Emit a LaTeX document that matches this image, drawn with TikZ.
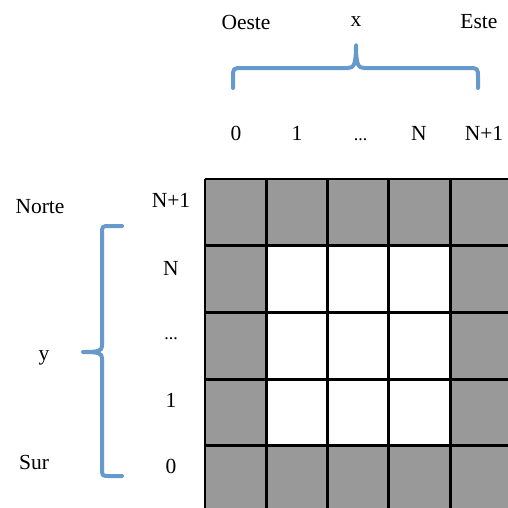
\documentclass[tikz,border=0pt]{standalone}
\usepackage{fontspec}
\setmainfont{Liberation Serif}
\definecolor{bracecol}{RGB}{102,153,204}
\begin{document}
\begin{tikzpicture}[x=1pt,y=-1pt,
  lbl/.style={inner sep=0pt,font=\fontsize{21.5}{25}\selectfont},
  dots/.style={lbl,anchor=base,font=\fontsize{18}{22}\selectfont},
  wall/.style={fill=black!40},
  gridline/.style={line width=2.9pt},
  brace/.style={draw=bracecol,line width=4pt,line cap=round,line join=round},
]
\useasboundingbox (0,0) rectangle (508,507);
\fill[white] (0,0) rectangle (508,507);

% ---- grid of cells (border cells grey, interior white) ----
\def\cw{61.3}
\def\ch{66.7}
\begin{scope}
\clip (0,0) rectangle (508,507);
\foreach \i in {0,...,4}{
  \foreach \j in {0,...,4}{
    \pgfmathtruncatemacro{\edge}{(\i==0 || \i==4 || \j==0 || \j==4) ? 1 : 0}
    \ifnum\edge=1
      \fill[wall] ({205+\i*\cw},{179+\j*\ch}) rectangle ++(\cw,\ch);
    \fi
  }
}
\foreach \i in {0,...,5}
  \draw[gridline] ({205+\i*\cw},179) -- ({205+\i*\cw},{179+5*\ch});
\foreach \j in {0,...,5}
  \draw[gridline] (205,{179+\j*\ch}) -- ({205+5*\cw},{179+\j*\ch});
\end{scope}

% ---- x axis labels ----
\node[lbl] (oeste) at (246,22) {Oeste};
\node[lbl] (xlab) at (356,22) {x};
\node[lbl] (este) at (479,22) {Este};
\node[lbl] (c0) at (236,133) {0};
\node[lbl] (c1) at (297,133) {1};
\node[dots] (cd) at (360.5,140) {...};
\node[lbl] (cN) at (419,133) {N};
\node[lbl] (cN1) at (484,133) {N+1};

% ---- y axis labels ----
\node[lbl] (norte) at (40,207) {Norte};
\node[lbl] (ylab) at (44,358) {y};
\node[lbl] (sur) at (34,462) {Sur};
\node[lbl] (r1) at (171,200) {N+1};
\node[lbl] (r2) at (171,268) {N};
\node[dots] (r3) at (171,339) {...};
\node[lbl] (r4) at (171,400) {1};
\node[lbl] (r5) at (171,466) {0};

% ---- horizontal brace ----
\coordinate (hbL) at (233,88);
\coordinate (hbR) at (478,88);
\coordinate (hbT) at (356,45);
\draw[brace] (hbL) -- (233,78) .. controls (233,68) .. (243,68)
  -- (348,68) .. controls (354,68) and (356,64) .. (hbT)
  .. controls (356,64) and (358,68) .. (364,68)
  -- (468,68) .. controls (478,68) .. (478,78) -- (hbR);

% ---- vertical brace ----
\coordinate (vbT) at (122,226);
\coordinate (vbB) at (122,476);
\coordinate (vbM) at (83,352);
\draw[brace] (vbT) -- (110,226) .. controls (102,226) .. (102,234)
  -- (102,346) .. controls (102,351) and (98,352) .. (vbM)
  .. controls (98,352) and (102,353) .. (102,358)
  -- (102,468) .. controls (102,476) .. (110,476) -- (vbB);
\end{tikzpicture}
\end{document}
